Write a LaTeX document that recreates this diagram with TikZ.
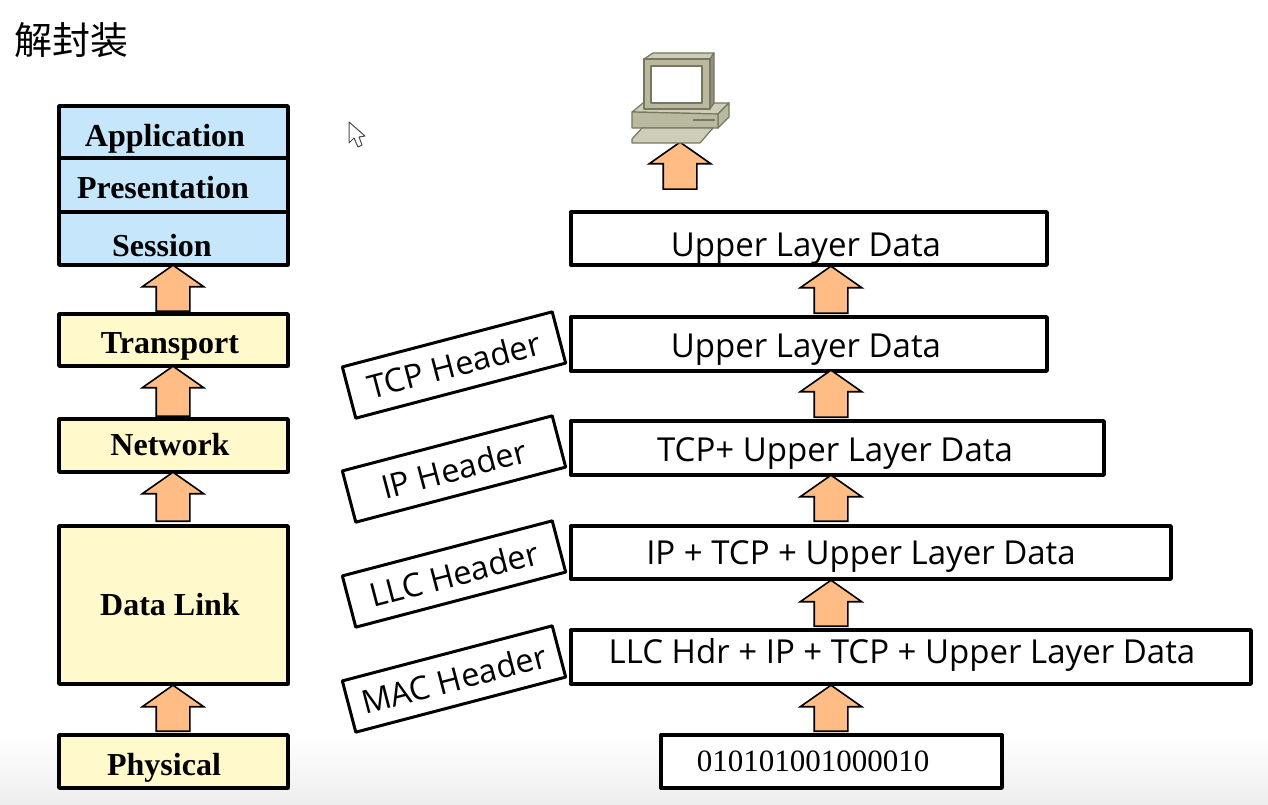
\documentclass[tikz,border=0pt]{standalone}
\usepackage{fontspec}
\setmainfont{Open Sans}
\newfontfamily\cjkfont{Noto Sans CJK SC}
\newfontfamily\serifbold[BoldFont={Liberation Serif Bold}]{Liberation Serif}
\usetikzlibrary{shapes.arrows,shadows}
\definecolor{layerblue}{HTML}{C6E6FC}
\definecolor{layeryellow}{HTML}{FFF9CC}
\definecolor{arroworange}{HTML}{FFBD85}
\definecolor{pcbody}{HTML}{B9B9A0}
\definecolor{pctop}{HTML}{CDCDB8}
\definecolor{pcedge}{HTML}{77775F}
\tikzset{
  layerbox/.style={draw=black,line width=3.8pt,line join=round,inner sep=0pt,general shadow={shadow xshift=2pt,shadow yshift=-2pt,fill=black!35}},
  databox/.style={draw=black,line width=3.4pt,line join=round,fill=white,inner sep=0pt},
  headerbox/.style={draw=black,line width=3pt,line join=round,fill=white,inner sep=0pt,minimum width=217pt,minimum height=53pt,rotate=14.7,font=\fontsize{32.5}{32.5}\selectfont},
  layertext/.style={font=\serifbold\bfseries\fontsize{32}{32}\selectfont,inner sep=0pt},
  datatext/.style={font=\fontsize{33}{33}\selectfont,inner sep=0pt},
  uparrow/.style={shape=single arrow,draw=black,line width=1.6pt,line join=miter,fill=arroworange,rotate=90,anchor=tail,inner xsep=0pt,inner ysep=16pt,minimum width=60pt,single arrow head extend=14pt,single arrow head indent=0pt,single arrow tip angle=110},
}
\begin{document}
\begin{tikzpicture}[x=1pt,y=-1pt]
\useasboundingbox (0,0) rectangle (1268,805);
\shade[top color=white,bottom color=black!7] (0,735) rectangle (1268,805);

% Title
\node[font=\cjkfont\fontsize{38}{38}\selectfont,inner sep=0pt] (title) at (71,40) {解封装};

% OSI layers
\foreach \name/\cx/\cy/\h/\col/\tx/\ty/\txt in {
  app/173.5/132/52/layerblue/165/139/Application,
  pres/173.5/185/54/layerblue/163/188/Presentation,
  sess/173.5/238.5/53/layerblue/162/246/Session,
  trans/173.5/340/52/layeryellow/170/346/Transport,
  net/173.5/445.5/53/layeryellow/170/445/Network,
  link/173.5/605/158/layeryellow/170/605/Data Link,
  phys/173.5/761.5/53/layeryellow/164/768/Physical
} {
  \node[layerbox,fill=\col,minimum width=229pt,minimum height=\h pt] (\name) at (\cx,\cy) {};
  \node[layertext] (\name-text) at (\tx,\ty) {\txt};
}

% Data units
\foreach \name/\cx/\cy/\w/\h/\tx/\ty/\txt in {
  upper/809/238.5/476/53/806/249/Upper Layer Data,
  segment/809/344/476/54/806/350/Upper Layer Data,
  packet/837.5/448/533/54/835/454/TCP+ Upper Layer Data,
  llc/871/552.5/600/53/861/557/IP + TCP + Upper Layer Data,
  frame/911/657/680/54/902/655/LLC Hdr + IP + TCP + Upper Layer Data
} {
  \node[databox,minimum width=\w pt,minimum height=\h pt] (\name) at (\cx,\cy) {};
  \node[datatext] (\name-text) at (\tx,\ty) {\txt};
}
\node[databox,minimum width=341pt,minimum height=53pt] (bits) at (831.5,761.5) {};
\node[font=\serifbold\fontsize{31}{31}\selectfont,inner sep=0pt] (bits-text) at (813,761) {010101001000010};

% Headers
\foreach \name/\cy/\txt in {tcp/365/TCP Header,ip/469/IP Header,llchdr/574/LLC Header,mac/679/MAC Header} {
  \node[headerbox] (\name) at (454,\cy) {\txt};
}

% Arrows
\foreach \name/\cx/\cy/\len in {
  a/173/312/46, b/173/417/50, c/173/522/49, d/173/732/46,
  e/831/314/47, f/831/418/47, g/831/522/46, h/831/627/46, i/831/732/46, j/680/190/47
} {
  \node[uparrow,minimum height=\len pt] (arrow-\name) at (\cx,\cy) {};
}

% Computer
\begin{scope}[draw=pcedge,line width=1.2pt,line join=round]
  \filldraw[fill=pctop] (632,112) -- (643,103) -- (729,103) -- (718,114) -- cycle;
  \filldraw[fill=pcbody] (718,114) -- (729,103) -- (729,117) -- (718,128) -- cycle;
  \filldraw[fill=pcbody] (632,112) -- (718,114) -- (718,128) -- (632,128) -- cycle;
  \filldraw[fill=pctop] (642,128) -- (713,128) -- (700,143) -- (632,143) -- (632,139) -- cycle;
  \filldraw[fill=pctop] (644,59) -- (653,53) -- (714,53) -- (710,59) -- cycle;
  \filldraw[fill=pcedge!80] (710,59) -- (714,53) -- (714,103) -- (710,109) -- cycle;
  \filldraw[fill=pcbody] (644,59) rectangle (710,109);
  \filldraw[fill=white] (651,66) rectangle (702,103);
  \draw[line width=1.8pt] (693,120) -- (715,120);
\end{scope}

% Mouse pointer
\filldraw[fill=white,draw=black!70,line width=1pt,line join=round] (349,122) -- (349,143) -- (354,138) -- (358,147) -- (362,145) -- (359,137) -- (365,136) -- cycle;
\end{tikzpicture}
\end{document}
